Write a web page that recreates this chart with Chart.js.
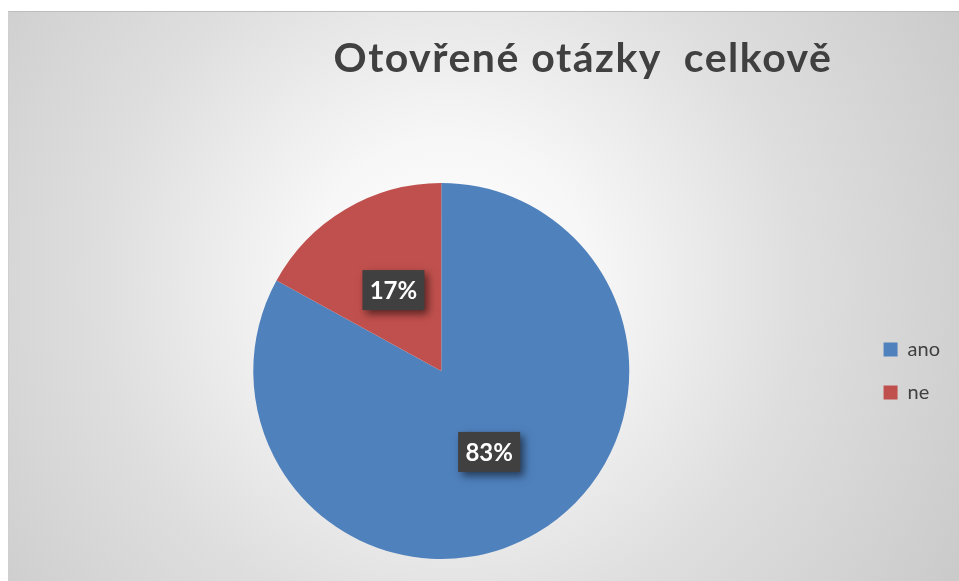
<!DOCTYPE html>
<html>
<head>
<meta charset="utf-8">
<script src="https://cdn.jsdelivr.net/npm/chart.js@4"></script>
<style>
    html, body { margin: 0; padding: 0; background: #ffffff; }
    #frame {
        position: absolute; left: 8px; top: 11px; width: 951px; height: 570px;
        background: radial-gradient(circle 640px at 440px 270px, #ffffff 0%, #f7f7f7 22%, #dedede 55%, #c6c6c6 100%);
        border-top: 1px solid #bdbdbd; border-left: 1px solid #cfcfcf;
        box-sizing: border-box;
    }
    #title {
        position: absolute; left: 0; top: 20px; width: 951px; padding-left: 197px; box-sizing: border-box;
        text-align: center; font: bold 41px Lato, "Open Sans", sans-serif; color: #404040;
        letter-spacing: 1.5px; white-space: pre;
    }
    #wrap { position: absolute; left: 0; top: 0; width: 951px; height: 570px; }
</style>
</head>
<body>
<div id="frame">
    <div id="wrap"><canvas id="pieChart"></canvas></div>
    <div id="title">Otovřené otázky  celkově</div>
</div>
<script>
const categories = ['ano', 'ne'];
const shares = [83, 17];
const sliceColors = ['#4F81BD', '#C0504D'];

// dark value boxes on the slices, like the Excel data labels
const valueBoxes = {
    id: 'valueBoxes',
    afterDatasetsDraw(chart) {
        const ctx = chart.ctx;
        const meta = chart.getDatasetMeta(0);
        ctx.save();
        ctx.font = 'bold 24px Lato, "Open Sans", sans-serif';
        ctx.textAlign = 'center';
        ctx.textBaseline = 'middle';
        meta.data.forEach((arc, i) => {
            const pos = arc.tooltipPosition();
            const text = shares[i] + '%';
            const w = 62;
            const h = 40;
            ctx.save();
            ctx.shadowColor = 'rgba(0,0,0,0.55)';
            ctx.shadowBlur = 8;
            ctx.shadowOffsetX = 4;
            ctx.shadowOffsetY = 4;
            ctx.fillStyle = '#404040';
            ctx.fillRect(pos.x - w / 2, pos.y - h / 2, w, h);
            ctx.restore();
            ctx.fillStyle = '#ffffff';
            ctx.fillText(text, pos.x, pos.y + 1);
        });
        ctx.restore();
    }
};

class PieChart {
    constructor(canvasId) {
        this.ctx = document.getElementById(canvasId);
    }

    create() {
        new Chart(this.ctx, {
            type: 'pie',
            data: {
                labels: categories,
                datasets: [{
                    data: shares,
                    backgroundColor: sliceColors,
                    borderWidth: 0,
                    hoverOffset: 0
                }]
            },
            options: {
                responsive: true,
                maintainAspectRatio: false,
                animation: false,
                layout: {
                    padding: { left: 13, right: 10, top: 171, bottom: 23 }
                },
                plugins: {
                    title: { display: false },
                    tooltip: { enabled: false },
                    legend: {
                        position: 'right',
                        labels: {
                            boxWidth: 14,
                            boxHeight: 14,
                            padding: 23,
                            color: '#404040',
                            font: { size: 20, family: 'Lato, "Open Sans", sans-serif' }
                        }
                    }
                }
            },
            plugins: [valueBoxes]
        });
    }
}

new PieChart('pieChart').create();
</script>
</body>
</html>
